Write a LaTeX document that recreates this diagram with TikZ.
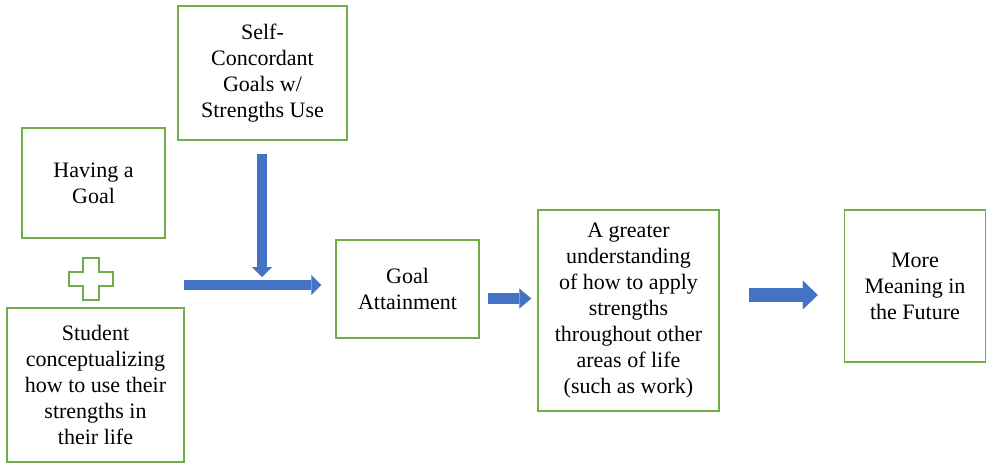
\documentclass[tikz,border=0pt]{standalone}
\usepackage{fontspec}
\setmainfont{Liberation Serif}
\usetikzlibrary{arrows.meta,calc}
\definecolor{boxgreen}{HTML}{70AD47}
\definecolor{arrowblue}{HTML}{4472C4}
\begin{document}
\begin{tikzpicture}[x=1pt,y=-1pt,
  gbox/.style={draw=boxgreen,line width=1.5pt,fill=white,align=center,inner sep=0pt,
    font=\fontsize{22}{26}\selectfont},
  barrow/.style={draw=arrowblue,line width=#1,
    -{Triangle[length=10pt,width=20pt,line width=0.1pt]}},
]
\useasboundingbox (0,0) rectangle (987,465);
\node[gbox,minimum width=143pt,minimum height=110pt] (hg) at (93.5,183) {Having a\\Goal};
\node[gbox,minimum width=177pt,minimum height=154pt] (st) at (95.5,385) {Student\\conceptualizing\\how to use their\\strengths in\\their life};
\node[gbox,minimum width=169pt,minimum height=134pt] (sc) at (262.5,73) {Self-\\Concordant\\Goals w/\\Strengths Use};
\node[gbox,minimum width=143pt,minimum height=98pt] (ga) at (407.5,289) {Goal\\Attainment};
\node[gbox,minimum width=181pt,minimum height=201pt] (gr) at (628.5,310.5) {A greater\\understanding\\of how to apply\\strengths\\throughout other\\areas of life\\(such as work)};
\node[gbox,minimum width=141pt,minimum height=152pt] (mm) at (915,286) {More\\Meaning in\\the Future};
% plus sign
\coordinate (plus) at (91,279);
\draw[boxgreen,line width=1.5pt] (plus) ++(-8,-21) -- ++(16,0) -- ++(0,14) -- ++(14,0) -- ++(0,14)
  -- ++(-14,0) -- ++(0,14) -- ++(-16,0) -- ++(0,-14) -- ++(-14,0) -- ++(0,-14) -- ++(14,0) -- cycle;
% arrows
\coordinate (d1) at ($(sc.south)+(-0.5,13)$);
\coordinate (d2) at (262,277);
\coordinate (h1) at (184,285);
\coordinate (h2) at ($(ga.west)+(-14,-4)$);
\coordinate (a1) at ($(ga.east)+(8,9.5)$);
\coordinate (a2) at ($(gr.west)+(-6,-12)$);
\coordinate (b1) at ($(gr.east)+(29,-15.5)$);
\coordinate (b2) at ($(mm.west)+(-26,9)$);
\draw[barrow=10pt] (d1) -- (d2);
\draw[barrow=10pt] (h1) -- (h2);
\draw[draw=arrowblue,line width=11pt,-{Triangle[length=12pt,width=20pt,line width=0.1pt]}] (a1) -- (a2);
\draw[draw=arrowblue,line width=14pt,-{Triangle[length=15pt,width=29pt,line width=0.1pt]}] (b1) -- (b2);
\end{tikzpicture}
\end{document}
